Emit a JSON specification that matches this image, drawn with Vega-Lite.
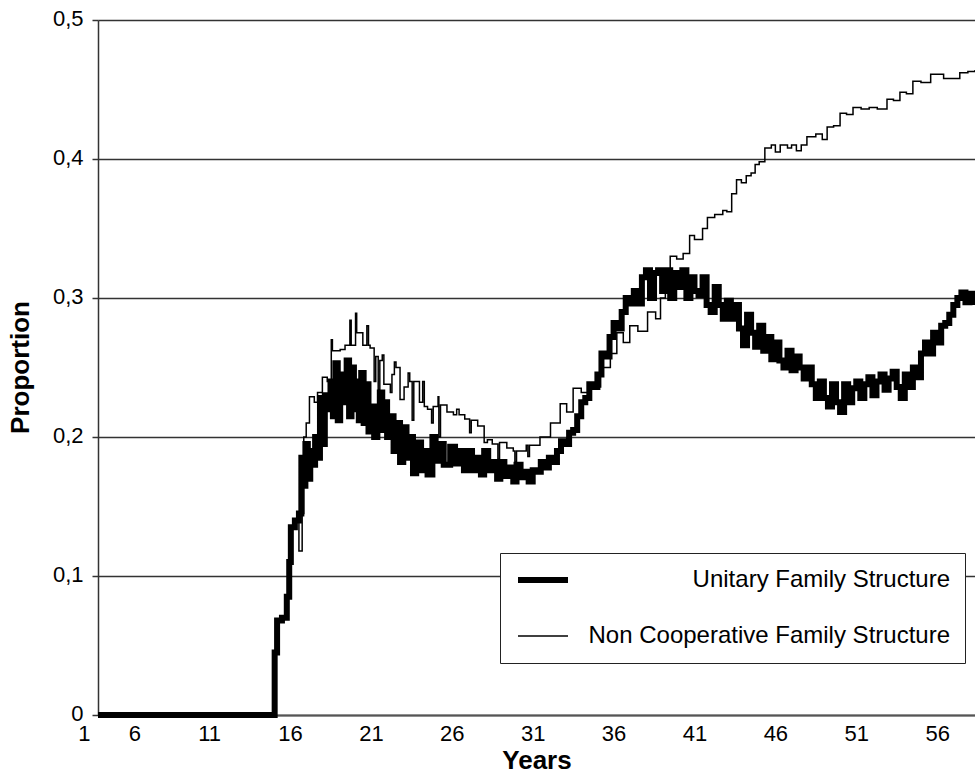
{
"$schema": "https://vega.github.io/schema/vega-lite/v6.json",
"width": 877, "height": 695,
"autosize": {"type": "none"},
"padding": {"left": 98, "top": 20, "right": 0, "bottom": 59},
"background": "white",
"config": {"font": "Liberation Sans", "view": {"stroke": null}},
"data": {"values": [
{"series":"U","year":4.13,"value":0},{"series":"U","year":15.05,"value":0.045},{"series":"U","year":15.2,"value":0.068},{"series":"U","year":15.5,"value":0.07},{"series":"U","year":15.8,"value":0.085},{"series":"U","year":15.95,"value":0.11},{"series":"U","year":16.05,"value":0.135},{"series":"U","year":16.3,"value":0.14},{"series":"U","year":16.55,"value":0.145},{"series":"U","year":16.7,"value":0.185},{"series":"U","year":16.8,"value":0.165},{"series":"U","year":16.95,"value":0.195},{"series":"U","year":17.1,"value":0.17},{"series":"U","year":17.25,"value":0.19},{"series":"U","year":17.4,"value":0.18},{"series":"U","year":17.55,"value":0.2},{"series":"U","year":17.7,"value":0.185},{"series":"U","year":17.85,"value":0.228},{"series":"U","year":18.0,"value":0.195},{"series":"U","year":18.15,"value":0.23},{"series":"U","year":18.3,"value":0.22},{"series":"U","year":18.5,"value":0.24},{"series":"U","year":18.65,"value":0.215},{"series":"U","year":18.8,"value":0.253},{"series":"U","year":18.95,"value":0.212},{"series":"U","year":19.1,"value":0.245},{"series":"U","year":19.3,"value":0.225},{"series":"U","year":19.5,"value":0.255},{"series":"U","year":19.65,"value":0.215},{"series":"U","year":19.8,"value":0.25},{"series":"U","year":19.95,"value":0.22},{"series":"U","year":20.1,"value":0.24},{"series":"U","year":20.25,"value":0.212},{"series":"U","year":20.4,"value":0.246},{"series":"U","year":20.55,"value":0.21},{"series":"U","year":20.7,"value":0.238},{"series":"U","year":20.85,"value":0.204},{"series":"U","year":21.0,"value":0.222},{"series":"U","year":21.2,"value":0.2},{"series":"U","year":21.4,"value":0.215},{"series":"U","year":21.55,"value":0.232},{"series":"U","year":21.7,"value":0.205},{"series":"U","year":21.85,"value":0.225},{"series":"U","year":22.0,"value":0.2},{"series":"U","year":22.2,"value":0.215},{"series":"U","year":22.4,"value":0.19},{"series":"U","year":22.6,"value":0.21},{"series":"U","year":22.8,"value":0.182},{"series":"U","year":23.0,"value":0.207},{"series":"U","year":23.2,"value":0.185},{"series":"U","year":23.4,"value":0.2},{"series":"U","year":23.6,"value":0.174},{"series":"U","year":23.8,"value":0.19},{"series":"U","year":23.95,"value":0.196},{"series":"U","year":24.1,"value":0.176},{"series":"U","year":24.3,"value":0.19},{"series":"U","year":24.5,"value":0.173},{"series":"U","year":24.8,"value":0.2},{"series":"U","year":25.0,"value":0.183},{"series":"U","year":25.25,"value":0.195},{"series":"U","year":25.5,"value":0.18},{"series":"U","year":25.9,"value":0.193},{"series":"U","year":26.2,"value":0.181},{"series":"U","year":26.5,"value":0.19},{"series":"U","year":26.75,"value":0.176},{"series":"U","year":27.0,"value":0.19},{"series":"U","year":27.25,"value":0.176},{"series":"U","year":27.5,"value":0.185},{"series":"U","year":27.8,"value":0.173},{"series":"U","year":28.0,"value":0.19},{"series":"U","year":28.25,"value":0.176},{"series":"U","year":28.5,"value":0.182},{"series":"U","year":28.8,"value":0.17},{"series":"U","year":29.0,"value":0.182},{"series":"U","year":29.25,"value":0.172},{"series":"U","year":29.5,"value":0.178},{"series":"U","year":29.8,"value":0.168},{"series":"U","year":30.0,"value":0.18},{"series":"U","year":30.25,"value":0.171},{"series":"U","year":30.5,"value":0.175},{"series":"U","year":30.75,"value":0.168},{"series":"U","year":31.0,"value":0.176},{"series":"U","year":31.25,"value":0.175},{"series":"U","year":31.5,"value":0.182},{"series":"U","year":31.75,"value":0.178},{"series":"U","year":32.0,"value":0.185},{"series":"U","year":32.25,"value":0.182},{"series":"U","year":32.5,"value":0.19},{"series":"U","year":32.75,"value":0.197},{"series":"U","year":33.0,"value":0.195},{"series":"U","year":33.25,"value":0.203},{"series":"U","year":33.5,"value":0.205},{"series":"U","year":33.75,"value":0.215},{"series":"U","year":34.0,"value":0.225},{"series":"U","year":34.25,"value":0.228},{"series":"U","year":34.5,"value":0.238},{"series":"U","year":34.75,"value":0.236},{"series":"U","year":35.0,"value":0.245},{"series":"U","year":35.25,"value":0.26},{"series":"U","year":35.5,"value":0.258},{"series":"U","year":35.75,"value":0.272},{"series":"U","year":36.0,"value":0.282},{"series":"U","year":36.25,"value":0.278},{"series":"U","year":36.5,"value":0.29},{"series":"U","year":36.75,"value":0.3},{"series":"U","year":37.0,"value":0.296},{"series":"U","year":37.25,"value":0.305},{"series":"U","year":37.5,"value":0.296},{"series":"U","year":37.75,"value":0.315},{"series":"U","year":38.0,"value":0.32},{"series":"U","year":38.25,"value":0.3},{"series":"U","year":38.5,"value":0.318},{"series":"U","year":38.75,"value":0.32},{"series":"U","year":39.0,"value":0.305},{"series":"U","year":39.25,"value":0.32},{"series":"U","year":39.5,"value":0.3},{"series":"U","year":39.75,"value":0.318},{"series":"U","year":40.0,"value":0.308},{"series":"U","year":40.25,"value":0.32},{"series":"U","year":40.5,"value":0.3},{"series":"U","year":40.75,"value":0.315},{"series":"U","year":41.0,"value":0.305},{"series":"U","year":41.25,"value":0.302},{"series":"U","year":41.5,"value":0.315},{"series":"U","year":41.75,"value":0.295},{"series":"U","year":42.0,"value":0.29},{"series":"U","year":42.25,"value":0.308},{"series":"U","year":42.5,"value":0.295},{"series":"U","year":42.75,"value":0.285},{"series":"U","year":43.0,"value":0.298},{"series":"U","year":43.25,"value":0.285},{"series":"U","year":43.5,"value":0.295},{"series":"U","year":43.75,"value":0.278},{"series":"U","year":44.0,"value":0.266},{"series":"U","year":44.25,"value":0.288},{"series":"U","year":44.5,"value":0.275},{"series":"U","year":44.75,"value":0.265},{"series":"U","year":45.0,"value":0.28},{"series":"U","year":45.25,"value":0.262},{"series":"U","year":45.5,"value":0.272},{"series":"U","year":45.75,"value":0.256},{"series":"U","year":46.0,"value":0.268},{"series":"U","year":46.25,"value":0.255},{"series":"U","year":46.5,"value":0.25},{"series":"U","year":46.75,"value":0.262},{"series":"U","year":47.0,"value":0.248},{"series":"U","year":47.25,"value":0.258},{"series":"U","year":47.5,"value":0.25},{"series":"U","year":47.75,"value":0.242},{"series":"U","year":48.0,"value":0.25},{"series":"U","year":48.25,"value":0.238},{"series":"U","year":48.5,"value":0.228},{"series":"U","year":48.75,"value":0.24},{"series":"U","year":49.0,"value":0.228},{"series":"U","year":49.25,"value":0.222},{"series":"U","year":49.5,"value":0.238},{"series":"U","year":49.75,"value":0.225},{"series":"U","year":50.0,"value":0.218},{"series":"U","year":50.25,"value":0.238},{"series":"U","year":50.5,"value":0.225},{"series":"U","year":50.75,"value":0.235},{"series":"U","year":51.0,"value":0.24},{"series":"U","year":51.25,"value":0.228},{"series":"U","year":51.5,"value":0.238},{"series":"U","year":51.75,"value":0.243},{"series":"U","year":52.0,"value":0.23},{"series":"U","year":52.25,"value":0.24},{"series":"U","year":52.5,"value":0.245},{"series":"U","year":52.75,"value":0.234},{"series":"U","year":53.0,"value":0.242},{"series":"U","year":53.25,"value":0.247},{"series":"U","year":53.5,"value":0.236},{"series":"U","year":53.75,"value":0.228},{"series":"U","year":54.0,"value":0.245},{"series":"U","year":54.25,"value":0.236},{"series":"U","year":54.5,"value":0.25},{"series":"U","year":54.75,"value":0.243},{"series":"U","year":55.0,"value":0.26},{"series":"U","year":55.25,"value":0.268},{"series":"U","year":55.5,"value":0.26},{"series":"U","year":55.75,"value":0.275},{"series":"U","year":56.0,"value":0.268},{"series":"U","year":56.25,"value":0.28},{"series":"U","year":56.5,"value":0.282},{"series":"U","year":56.75,"value":0.288},{"series":"U","year":57.0,"value":0.295},{"series":"U","year":57.25,"value":0.3},{"series":"U","year":57.5,"value":0.304},{"series":"U","year":57.75,"value":0.297},{"series":"U","year":58.0,"value":0.303},{"series":"U","year":58.34,"value":0.295},
{"series":"N","year":4.13,"value":0},{"series":"N","year":15.05,"value":0.045},{"series":"N","year":15.2,"value":0.068},{"series":"N","year":15.5,"value":0.07},{"series":"N","year":15.8,"value":0.085},{"series":"N","year":15.95,"value":0.12},{"series":"N","year":16.05,"value":0.135},{"series":"N","year":16.3,"value":0.14},{"series":"N","year":16.55,"value":0.118},{"series":"N","year":16.75,"value":0.145},{"series":"N","year":16.85,"value":0.2},{"series":"N","year":17.0,"value":0.21},{"series":"N","year":17.2,"value":0.229},{"series":"N","year":17.5,"value":0.225},{"series":"N","year":17.7,"value":0.232},{"series":"N","year":18.0,"value":0.243},{"series":"N","year":18.3,"value":0.24},{"series":"N","year":18.55,"value":0.27},{"series":"N","year":18.62,"value":0.262},{"series":"N","year":19.1,"value":0.263},{"series":"N","year":19.4,"value":0.266},{"series":"N","year":19.7,"value":0.284},{"series":"N","year":19.78,"value":0.266},{"series":"N","year":20.05,"value":0.289},{"series":"N","year":20.12,"value":0.275},{"series":"N","year":20.5,"value":0.266},{"series":"N","year":20.75,"value":0.28},{"series":"N","year":20.85,"value":0.266},{"series":"N","year":20.95,"value":0.264},{"series":"N","year":21.2,"value":0.24},{"series":"N","year":21.3,"value":0.258},{"series":"N","year":21.45,"value":0.234},{"series":"N","year":21.55,"value":0.255},{"series":"N","year":21.7,"value":0.259},{"series":"N","year":21.8,"value":0.238},{"series":"N","year":22.2,"value":0.232},{"series":"N","year":22.3,"value":0.245},{"series":"N","year":22.45,"value":0.254},{"series":"N","year":22.55,"value":0.25},{"series":"N","year":22.8,"value":0.227},{"series":"N","year":23.05,"value":0.236},{"series":"N","year":23.3,"value":0.246},{"series":"N","year":23.4,"value":0.24},{"series":"N","year":23.55,"value":0.212},{"series":"N","year":23.65,"value":0.24},{"series":"N","year":24.0,"value":0.225},{"series":"N","year":24.2,"value":0.24},{"series":"N","year":24.3,"value":0.222},{"series":"N","year":24.5,"value":0.22},{"series":"N","year":24.75,"value":0.21},{"series":"N","year":24.85,"value":0.222},{"series":"N","year":25.15,"value":0.229},{"series":"N","year":25.2,"value":0.2},{"series":"N","year":25.3,"value":0.223},{"series":"N","year":25.7,"value":0.218},{"series":"N","year":26.1,"value":0.216},{"series":"N","year":26.3,"value":0.22},{"series":"N","year":26.45,"value":0.216},{"series":"N","year":26.8,"value":0.213},{"series":"N","year":27.1,"value":0.203},{"series":"N","year":27.2,"value":0.212},{"series":"N","year":27.6,"value":0.208},{"series":"N","year":28.0,"value":0.196},{"series":"N","year":28.2,"value":0.198},{"series":"N","year":28.5,"value":0.195},{"series":"N","year":28.85,"value":0.184},{"series":"N","year":28.95,"value":0.196},{"series":"N","year":29.4,"value":0.192},{"series":"N","year":29.8,"value":0.19},{"series":"N","year":29.9,"value":0.182},{"series":"N","year":30.0,"value":0.19},{"series":"N","year":30.6,"value":0.194},{"series":"N","year":30.7,"value":0.186},{"series":"N","year":30.8,"value":0.194},{"series":"N","year":31.45,"value":0.2},{"series":"N","year":32.1,"value":0.21},{"series":"N","year":32.7,"value":0.224},{"series":"N","year":33.1,"value":0.218},{"series":"N","year":33.5,"value":0.235},{"series":"N","year":34.0,"value":0.232},{"series":"N","year":34.5,"value":0.236},{"series":"N","year":35.2,"value":0.25},{"series":"N","year":35.8,"value":0.26},{"series":"N","year":36.2,"value":0.275},{"series":"N","year":36.6,"value":0.268},{"series":"N","year":37.0,"value":0.28},{"series":"N","year":37.5,"value":0.276},{"series":"N","year":38.1,"value":0.29},{"series":"N","year":38.6,"value":0.285},{"series":"N","year":38.9,"value":0.3},{"series":"N","year":39.2,"value":0.315},{"series":"N","year":39.5,"value":0.33},{"series":"N","year":39.9,"value":0.328},{"series":"N","year":40.3,"value":0.332},{"series":"N","year":40.7,"value":0.345},{"series":"N","year":41.0,"value":0.342},{"series":"N","year":41.5,"value":0.35},{"series":"N","year":41.8,"value":0.358},{"series":"N","year":42.25,"value":0.36},{"series":"N","year":42.75,"value":0.363},{"series":"N","year":43.0,"value":0.362},{"series":"N","year":43.3,"value":0.375},{"series":"N","year":43.6,"value":0.385},{"series":"N","year":43.9,"value":0.383},{"series":"N","year":44.2,"value":0.388},{"series":"N","year":44.5,"value":0.39},{"series":"N","year":44.75,"value":0.396},{"series":"N","year":45.0,"value":0.398},{"series":"N","year":45.35,"value":0.408},{"series":"N","year":45.75,"value":0.41},{"series":"N","year":46.0,"value":0.405},{"series":"N","year":46.3,"value":0.41},{"series":"N","year":46.75,"value":0.408},{"series":"N","year":47.0,"value":0.41},{"series":"N","year":47.3,"value":0.406},{"series":"N","year":47.6,"value":0.41},{"series":"N","year":47.95,"value":0.416},{"series":"N","year":48.5,"value":0.418},{"series":"N","year":48.9,"value":0.414},{"series":"N","year":49.2,"value":0.423},{"series":"N","year":49.6,"value":0.424},{"series":"N","year":50.0,"value":0.433},{"series":"N","year":50.4,"value":0.432},{"series":"N","year":50.8,"value":0.437},{"series":"N","year":51.3,"value":0.436},{"series":"N","year":51.8,"value":0.437},{"series":"N","year":52.3,"value":0.436},{"series":"N","year":52.9,"value":0.443},{"series":"N","year":53.3,"value":0.442},{"series":"N","year":53.7,"value":0.448},{"series":"N","year":54.1,"value":0.447},{"series":"N","year":54.5,"value":0.456},{"series":"N","year":55.0,"value":0.455},{"series":"N","year":55.6,"value":0.461},{"series":"N","year":56.0,"value":0.461},{"series":"N","year":56.4,"value":0.458},{"series":"N","year":56.9,"value":0.458},{"series":"N","year":57.4,"value":0.462},{"series":"N","year":57.9,"value":0.463},{"series":"N","year":58.34,"value":0.464}
]},
"mark": {"type": "line", "interpolate": "step-after", "color": "black"},
"encoding": {
  "x": {"field": "year", "type": "quantitative",
    "scale": {"domain": [4.13, 58.34], "nice": false, "zero": false},
    "axis": {"values": [4.13, 6, 11, 16, 21, 26, 31, 36, 41, 46, 51, 56],
      "labelExpr": "datum.value < 5 ? '1' : format(datum.value, 'd')",
      "grid": false, "ticks": false, "labelPadding": 8, "labelFontSize": 22, "labelColor": "black",
      "labelOverlap": false, "labelFlush": false,
      "labelAlign": {"condition": [{"test": "datum.value < 5", "value": "right"}, {"test": "datum.value == 6", "value": "left"}], "value": "center"},
      "labelOffset": {"condition": {"test": "datum.value < 5", "value": -8}, "value": 0},
      "title": "Years", "titleFontSize": 26, "titleFontWeight": "bold", "titleColor": "black",
      "titleY": 53, "titleBaseline": "alphabetic",
      "domainColor": "#555555", "domainWidth": 2}},
  "y": {"field": "value", "type": "quantitative",
    "scale": {"domain": [0, 0.5], "nice": false},
    "axis": {"values": [0, 0.1, 0.2, 0.3, 0.4, 0.5],
      "labelExpr": "datum.value == 0 ? '0' : replace(format(datum.value, '.1f'), '.', ',')",
      "labelFontSize": 22, "labelColor": "black", "labelPadding": 9, "labelOffset": -2,
      "tickSize": 6, "tickColor": "#333333", "tickWidth": 1.5,
      "domainColor": "#333333", "domainWidth": 1.5,
      "grid": true, "gridColor": "#333333", "gridWidth": 1.5,
      "title": "Proportion", "titleFontSize": 26, "titleFontWeight": "bold", "titleColor": "black",
      "titleX": -78, "titleY": 347, "titleBaseline": "middle"}},
  "strokeWidth": {"field": "series", "type": "ordinal",
    "scale": {"domain": ["U", "N"], "range": [6, 1.5]},
    "legend": {"title": null, "orient": "none", "legendX": 402, "legendY": 533,
      "labelExpr": "datum.label == 'U' ? 'Unitary Family Structure' : 'Non Cooperative Family Structure'",
      "symbolType": "stroke", "symbolStrokeColor": "black", "symbolSize": 2500, "clipHeight": 24,
      "labelFontSize": 24, "labelColor": "black", "labelAlign": "right", "labelOffset": 379, "labelLimit": 0,
      "padding": 15, "rowPadding": 32, "strokeColor": "#222222", "fillColor": "white"}}
}
}
